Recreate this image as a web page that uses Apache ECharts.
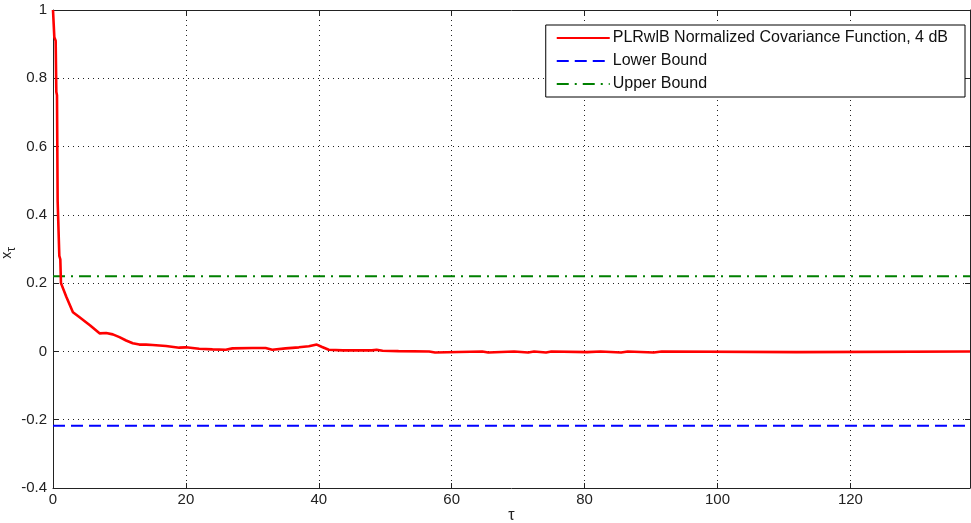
<!DOCTYPE html>
<html>
<head>
<meta charset="utf-8">
<script src="https://cdn.jsdelivr.net/npm/echarts@6/dist/echarts.min.js"></script>
<style>
  html, body { margin: 0; padding: 0; background: #fff; }
  #chart { width: 971px; height: 523px; }
</style>
</head>
<body>
<div id="chart"></div>
<script>
// Lag values (tau) and normalized covariance estimates
const tau = [
  0, 0.2, 0.4, 0.5, 0.6, 0.7, 0.85, 0.95, 1.1, 1.2,
  2, 3, 4, 5.6, 7, 8, 9, 10, 11, 12, 13, 14, 15, 17, 19, 20, 22, 24, 26, 27,
  30, 32, 33, 35, 37, 38.5, 39.7, 40.5, 41.5, 43.6, 48, 48.7, 49.6, 52,
  56.6, 56.8, 57.5, 57.7, 64.6, 64.8, 65.5, 65.7, 69.4, 69.6, 71.5, 71.7,
  72.4, 72.6, 74.2, 74.4, 75, 75.2, 80.4, 80.6, 82.4, 82.6, 85.5, 85.7,
  86.5, 86.7, 90.4, 90.6, 91.6, 91.8, 111.9, 112.1, 138
];
const covariance = [
  1, 0.92, 0.91, 0.76, 0.75, 0.44, 0.44, 0.28, 0.27, 0.2,
  0.16, 0.115, 0.1, 0.076, 0.053, 0.054, 0.05, 0.042, 0.032, 0.024, 0.02, 0.02, 0.019, 0.016, 0.011, 0.012, 0.008, 0.006, 0.005, 0.009,
  0.01, 0.01, 0.005, 0.009, 0.012, 0.015, 0.02, 0.013, 0.005, 0.003, 0.003, 0.005, 0.002, 0.001,
  0, -0.003, -0.003, 0, 0, -0.003, -0.003, 0, 0, -0.003, -0.003, 0,
  0, -0.003, -0.003, 0, 0, -0.002, -0.002, 0, 0, -0.003, -0.003, 0,
  0, -0.003, -0.003, 0, 0, -0.002, -0.002, 0, 0
];
const lowerBound = -0.2176;
const upperBound = 0.2205;
const xRange = [0, 138];
const yRange = [-0.4, 1];

const seriesNames = [
  'PLRwlB Normalized Covariance Function, 4 dB',
  'Lower Bound',
  'Upper Bound'
];

const curve = tau.map((t, i) => [t, covariance[i]]);
const lowerLine = [[xRange[0], lowerBound], [xRange[1], lowerBound]];
const upperLine = [[xRange[0], upperBound], [xRange[1], upperBound]];

const font = 'Liberation Sans, Arial, Helvetica, sans-serif';
const gridDots = { show: true, lineStyle: { color: '#222', width: 1, type: [1, 4] } };
const frameTick = { show: true, inside: true, length: 5, lineStyle: { color: '#222' } };
const frameLine = { show: true, onZero: false, lineStyle: { color: '#222', width: 1 } };

const chart = echarts.init(document.getElementById('chart'), null, { renderer: 'canvas' });
chart.setOption({
  animation: false,
  backgroundColor: '#fff',
  grid: { left: 53, right: 1, top: 10, bottom: 35, containLabel: false, outerBoundsMode: 'none' },
  legend: {
    orient: 'vertical',
    right: 6,
    top: 25,
    backgroundColor: '#fff',
    borderColor: '#000',
    borderWidth: 1,
    padding: [5, 17, 5, 10],
    itemWidth: 53,
    itemHeight: 14,
    itemGap: 7,
    itemStyle: { opacity: 0 },
    textStyle: { fontFamily: font, fontSize: 16, color: '#111', padding: [0, 0, 0, -2] },
    data: seriesNames
  },
  xAxis: [{
    type: 'value',
    min: xRange[0],
    max: xRange[1],
    interval: 20,
    name: 'τ',
    nameLocation: 'middle',
    nameGap: 20,
    nameMoveOverlap: false,
    nameTextStyle: { fontFamily: font, fontSize: 16, color: '#222' },
    axisLine: frameLine,
    axisTick: frameTick,
    axisLabel: {
      fontFamily: font, fontSize: 15, color: '#222', margin: 4,
      formatter: v => (v % 20 === 0 ? String(v) : '')
    },
    splitLine: gridDots
  }, {
    type: 'value',
    position: 'top',
    min: xRange[0],
    max: xRange[1],
    interval: 20,
    axisLine: frameLine,
    axisTick: frameTick,
    axisLabel: { show: false },
    splitLine: { show: false }
  }],
  yAxis: [{
    type: 'value',
    min: yRange[0],
    max: yRange[1],
    interval: 0.2,
    name: '{x|x}{t|τ}',
    nameLocation: 'middle',
    nameGap: 35,
    nameMoveOverlap: false,
    nameRotate: 90,
    nameTextStyle: {
      fontFamily: font, color: '#222', padding: [0, 0, 0, -8],
      rich: {
        x: { fontFamily: font, fontSize: 14, color: '#222', verticalAlign: 'top', lineHeight: 18 },
        t: { fontFamily: font, fontSize: 12, color: '#222', verticalAlign: 'bottom', lineHeight: 18, padding: [6, 0, 0, 0] }
      }
    },
    axisLine: frameLine,
    axisTick: frameTick,
    axisLabel: {
      fontFamily: font, fontSize: 15, color: '#222', margin: 6,
      formatter: v => String(Math.round(v * 10) / 10)
    },
    splitLine: gridDots
  }, {
    type: 'value',
    position: 'right',
    min: yRange[0],
    max: yRange[1],
    interval: 0.2,
    axisLine: frameLine,
    axisTick: frameTick,
    axisLabel: { show: false },
    splitLine: { show: false }
  }],
  series: [
    {
      name: seriesNames[0],
      type: 'line',
      data: curve,
      showSymbol: false,
      symbol: 'none',
      z: 5,
      itemStyle: { color: '#ff0000' },
      lineStyle: { color: '#ff0000', width: 2.6 }
    },
    {
      name: seriesNames[1],
      type: 'line',
      data: lowerLine,
      symbol: 'none',
      z: 4,
      itemStyle: { color: '#0000ff' },
      lineStyle: { color: '#0000ff', width: 2, type: [12, 6] }
    },
    {
      name: seriesNames[2],
      type: 'line',
      data: upperLine,
      symbol: 'none',
      z: 4,
      itemStyle: { color: '#008000' },
      lineStyle: { color: '#008000', width: 2, type: [12, 6, 2, 6] }
    }
  ]
});
</script>
</body>
</html>
